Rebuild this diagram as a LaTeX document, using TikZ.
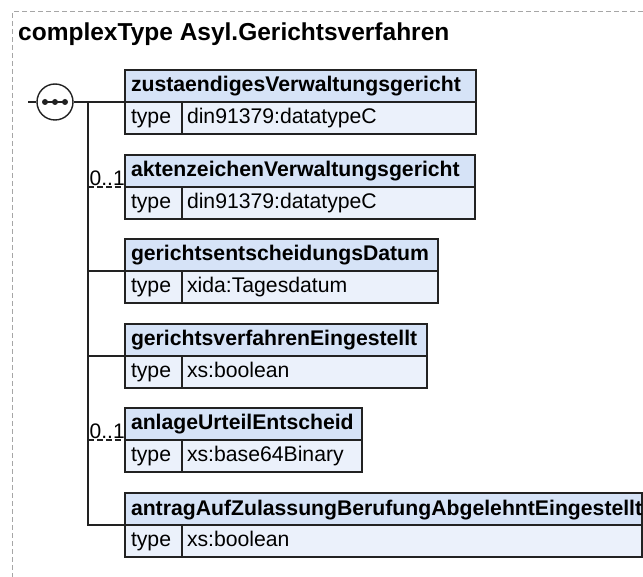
\documentclass[tikz,border=0pt]{standalone}
\usepackage{fontspec}
\setmainfont{Liberation Sans}
\usepackage{xcolor}
\usetikzlibrary{positioning, calc}
\hyphenpenalty=10000
\exhyphenpenalty=10000

\definecolor{hdrblue}{RGB}{214,227,247}
\definecolor{rowblue}{RGB}{235,241,251}
\definecolor{edge}{RGB}{34,34,34}

\tikzset{
  hdr/.style={draw=edge, fill=hdrblue, line width=1.4pt, anchor=north west, outer sep=0pt,
    inner xsep=6pt, inner ysep=0pt, minimum height=32pt, align=left,
    text height=15pt, text depth=3pt, font=\fontsize{21.2}{25}\selectfont\bfseries},
  typ/.style={draw=edge, fill=rowblue, line width=1.4pt, anchor=north west, outer sep=0pt,
    inner xsep=6pt, inner ysep=0pt, minimum height=32pt, text width=45pt, align=left,
    text height=15pt, text depth=4pt, font=\fontsize{21.2}{25}\selectfont},
  val/.style={typ, inner xsep=5pt},
  card/.style={inner sep=0pt, anchor=base west, font=\fontsize{21}{25}\selectfont},
  conn/.style={draw=edge, line width=1.4pt},
  optconn/.style={conn, dash pattern=on 6pt off 3pt},
}

\begin{document}
\begin{tikzpicture}[x=1pt, y=-1pt]
\useasboundingbox (0,0) rectangle (643,577);
\draw[gray!70, line width=1pt, dash pattern=on 5pt off 3pt] (643,12) -- (12,12) -- (12,577);

\node[anchor=base west, inner sep=0pt, font=\fontsize{24.5}{29}\selectfont\bfseries] (title) at (18,41) {complexType Asyl.Gerichtsverfahren};

% sequence compositor
\node[draw=edge, line width=1.4pt, circle, fill=white, minimum size=36pt, inner sep=0pt] (seq) at (55,102) {};
\draw[edge, line width=1.4pt] ([xshift=-10pt]seq.center) -- ([xshift=10pt]seq.center);
\foreach \dx in {-10,0,10} \fill[edge] ([xshift=\dx pt]seq.center) circle (3pt);
\coordinate (stub) at (28,102);
\coordinate (split) at (88,102);

% elements
\node[hdr, text width=339pt] (e1) at (125,70) {zustaendigesVerwaltungsgericht};
\node[typ] (e1t) at (e1.south west) {type};
\node[val, text width=284pt] (e1v) at (e1t.north east) {din91379:datatypeC};

\node[hdr, text width=338pt] (e2) at (125,155) {aktenzeichenVerwaltungsgericht};
\node[typ] (e2t) at (e2.south west) {type};
\node[val, text width=283pt] (e2v) at (e2t.north east) {din91379:datatypeC};

\node[hdr, text width=301pt] (e3) at (125,239) {gerichtsentscheidungsDatum};
\node[typ] (e3t) at (e3.south west) {type};
\node[val, text width=246pt] (e3v) at (e3t.north east) {xida:Tagesdatum};

\node[hdr, text width=290pt] (e4) at (125,324) {gerichtsverfahrenEingestellt};
\node[typ] (e4t) at (e4.south west) {type};
\node[val, text width=235pt] (e4v) at (e4t.north east) {xs:boolean};

\node[hdr, text width=225pt] (e5) at (125,408) {anlageUrteilEntscheid};
\node[typ] (e5t) at (e5.south west) {type};
\node[val, text width=170pt] (e5v) at (e5t.north east) {xs:base64Binary};

\node[hdr, text width=505pt] (e6) at (125,493) {antragAufZulassungBerufungAbgelehntEingestellt};
\node[typ] (e6t) at (e6.south west) {type};
\node[val, text width=450pt] (e6v) at (e6t.north east) {xs:boolean};

% connectors
\draw[conn] (stub) -- (seq.west);
\draw[conn] (seq.east) -- (e1t.north west);
\draw[conn] (split) |- (e6t.north west);
\draw[optconn] (split |- e2t.north west) -- (e2t.north west);
\draw[conn] (split |- e3t.north west) -- (e3t.north west);
\draw[conn] (split |- e4t.north west) -- (e4t.north west);
\draw[optconn] (split |- e5t.north west) -- (e5t.north west);

\node[card] (c2) at ([xshift=1.5pt, yshift=1.5pt]split |- e2t.north west) {0..1};
\node[card] (c5) at ([xshift=1.5pt, yshift=1.5pt]split |- e5t.north west) {0..1};
\end{tikzpicture}
\end{document}
